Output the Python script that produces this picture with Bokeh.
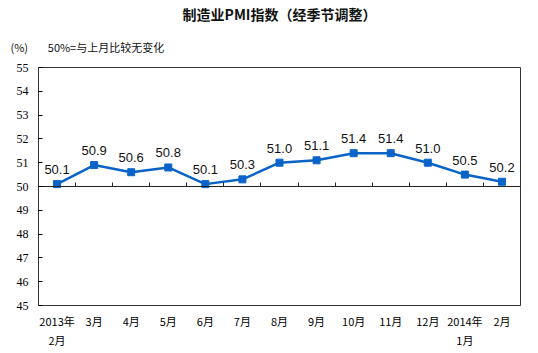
from bokeh.plotting import figure
from bokeh.models import (Range1d, FixedTicker, LinearAxis, ColumnDataSource, Title)
from bokeh.core.properties import value
from bokeh.embed import file_html
from bokeh.resources import INLINE

months = ["2013年\n2月", "3月", "4月", "5月", "6月", "7月", "8月", "9月",
          "10月", "11月", "12月", "2014年\n1月", "2月"]
pmi = [50.1, 50.9, 50.6, 50.8, 50.1, 50.3, 51.0, 51.1, 51.4, 51.4, 51.0, 50.5, 50.2]
y_ticks = [45, 46, 47, 48, 49, 50, 51, 52, 53, 54, 55]
baseline = 50

xs = list(range(len(months)))
src = ColumnDataSource(dict(x=xs, y=pmi, lab=["%.1f" % v for v in pmi]))

p = figure(width=538, height=353, output_backend="svg", toolbar_location=None,
           x_range=Range1d(-0.5, len(months) - 0.5), y_range=Range1d(45, 55),
           min_border_left=38, min_border_right=18, min_border_top=66, min_border_bottom=48)
p.xaxis.visible = False
p.yaxis.visible = False
p.grid.visible = False
p.outline_line_color = "#333333"
p.outline_line_width = 1
p.background_fill_color = "white"
p.border_fill_color = "white"

# baseline axis at 50 (ticks pointing up)
bticks = [i + 0.5 for i in xs[:-1]]
ba = LinearAxis(ticker=FixedTicker(ticks=bticks), fixed_location=baseline)
ba.major_tick_in = 0
ba.major_tick_out = 4
ba.minor_tick_line_color = None
ba.axis_line_color = "#222222"
ba.major_tick_line_color = "#222222"
ba.major_label_overrides = {t: "" for t in bticks}
ba.major_label_standoff = 0
p.add_layout(ba, "above")

# titles
nb = "\u00a0"
p.add_layout(Title(text="(%)" + nb * 8 + "50%=与上月比较无变化", align="left", offset=-28,
                   text_font="Noto Sans CJK SC", text_font_size="11px",
                   text_font_style="normal", text_color="#111111", standoff=25), "above")
p.add_layout(Title(text="制造业PMI指数（经季节调整）", align="center", offset=0,
                   text_font="Noto Sans CJK SC", text_font_size="14px",
                   text_font_style="bold", text_color="#111111", standoff=2), "above")

# left axis
ya = LinearAxis(ticker=FixedTicker(ticks=y_ticks))
ya.major_tick_in = 4
ya.major_tick_out = 0
ya.minor_tick_line_color = None
ya.axis_line_color = None
ya.major_label_text_font = "Liberation Serif"
ya.major_label_text_font_size = "12px"
ya.major_label_text_color = "#000000"
ya.major_label_standoff = 10
p.add_layout(ya, "left")

# bottom axis (labels)
xa = LinearAxis(ticker=FixedTicker(ticks=xs))
xa.major_label_overrides = {i: m for i, m in enumerate(months)}
xa.major_tick_line_color = None
xa.minor_tick_line_color = None
xa.axis_line_color = None
xa.major_label_text_font = "Noto Sans CJK SC"
xa.major_label_text_font_size = "11px"
xa.major_label_text_color = "#000000"
xa.major_label_standoff = 1
p.add_layout(xa, "below")

p.line("x", "y", source=src, line_color="#0A64C8", line_width=2.5)
p.scatter("x", "y", source=src, marker="square", size=7, fill_color="#0A64C8",
          line_color="#0A64C8")
p.text("x", "y", text="lab", source=src, text_align="center", text_baseline="bottom",
       y_offset=-10, text_font=value("Liberation Sans"), text_font_size="13px",
       text_color="#111111")

open("out.html", "w").write(file_html(p, INLINE))
